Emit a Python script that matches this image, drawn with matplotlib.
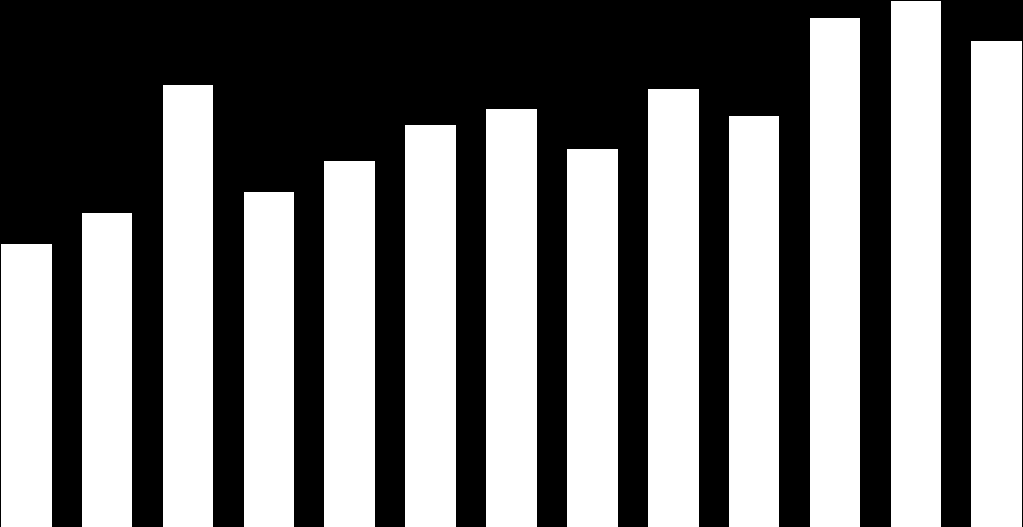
import matplotlib
matplotlib.use("Agg")
import matplotlib.pyplot as plt

# bar heights (pixel scale, 527 = full height)
categories = list(range(13))
values = [283, 314, 442, 335, 366, 402, 418, 378, 438, 411, 509, 526, 486]

fig = plt.figure(figsize=(10.23, 5.27), dpi=100, facecolor="black")
ax = fig.add_axes([0, 0, 1, 1])
ax.set_facecolor("black")

width = 0.625
ax.bar(categories, values, width=width, color="white", linewidth=0)

pad = 1 / 81
ax.set_xlim(-width / 2 - pad, categories[-1] + width / 2 + pad)
ax.set_ylim(0, 527)
ax.axis("off")

fig.savefig("out.png", dpi=100, facecolor="black")
